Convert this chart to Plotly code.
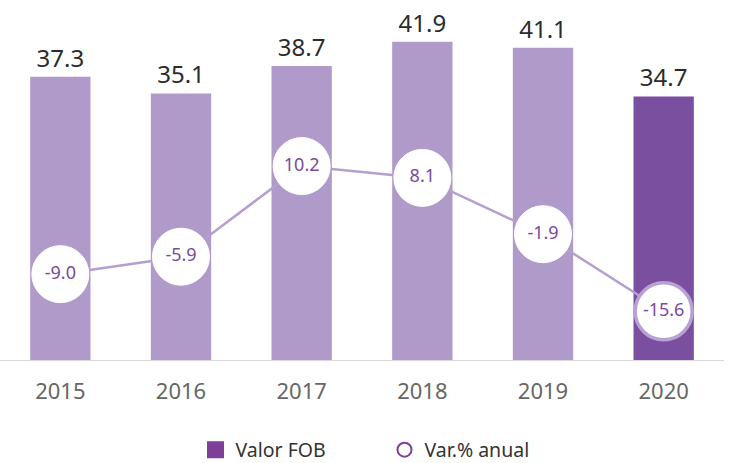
import plotly.graph_objects as go

years = ["2015", "2016", "2017", "2018", "2019", "2020"]
valor_fob = [37.3, 35.1, 38.7, 41.9, 41.1, 34.7]
var_anual = [-9.0, -5.9, 10.2, 8.1, -1.9, -15.6]

light = "#af9aca"
dark = "#7b4fa0"
text_purple = "#7a4a9e"

bar_colors = [light] * 5 + [dark]
marker_line_colors = ["white"] * 5 + ["#b8a2d4"]
marker_line_widths = [1] * 5 + [3.5]

fig = go.Figure()

fig.add_trace(go.Bar(
    x=years, y=valor_fob, name="Valor FOB",
    marker=dict(color=bar_colors, line=dict(width=0)),
    text=[f"{v:.1f}" for v in valor_fob], textposition="outside",
    textfont=dict(size=24, color="#2b2b2b"),
    cliponaxis=False, width=0.5, showlegend=False,
))
# legend entry for bars
fig.add_trace(go.Bar(
    x=[None], y=[None], name="Valor FOB",
    marker=dict(color="#7d3f98", line=dict(color="#7d3f98", width=5)),
    showlegend=True,
))

fig.add_trace(go.Scatter(
    x=years, y=var_anual, yaxis="y2", mode="lines",
    line=dict(color="#b59fd0", width=2.5), showlegend=False, hoverinfo="skip",
))
fig.add_trace(go.Scatter(
    x=years, y=var_anual, yaxis="y2", mode="markers+text",
    marker=dict(size=57, color="white",
                line=dict(color=marker_line_colors, width=marker_line_widths)),
    text=[f"{v:.1f}" for v in var_anual], textposition="middle center",
    textfont=dict(size=18, color=text_purple),
    cliponaxis=False, showlegend=False,
))
# legend entry for line
fig.add_trace(go.Scatter(
    x=[None], y=[None], yaxis="y2", mode="markers", name="Var.% anual",
    marker=dict(size=14, color="white", line=dict(color="#7d3f98", width=2)),
))

fig.update_layout(
    width=731, height=463,
    margin=dict(l=0, r=7, t=0, b=103, autoexpand=False),
    paper_bgcolor="white", plot_bgcolor="white",
    font=dict(family="Noto Sans", color="#333"),
    barmode="overlay",
    xaxis=dict(range=[-0.5, 5.5], showgrid=False, showline=True,
               linecolor="#d9d9d9", linewidth=1,
               tickfont=dict(size=22, color="#666"), ticks="",
               ticklabelstandoff=12),
    yaxis=dict(range=[0, 47.4], visible=False, showgrid=False),
    yaxis2=dict(range=[-24.25, 39.7], overlaying="y", visible=False, showgrid=False),
    legend=dict(orientation="h", x=195.5 / 724, xanchor="left", y=-0.25, yanchor="middle",
                font=dict(size=19.5, color="#333"), traceorder="normal",
                itemwidth=30, entrywidth=144),
)

fig.write_html("out.html", config={"displayModeBar": False},
               post_script="document.body.style.margin='0';document.body.style.overflow='hidden';")
